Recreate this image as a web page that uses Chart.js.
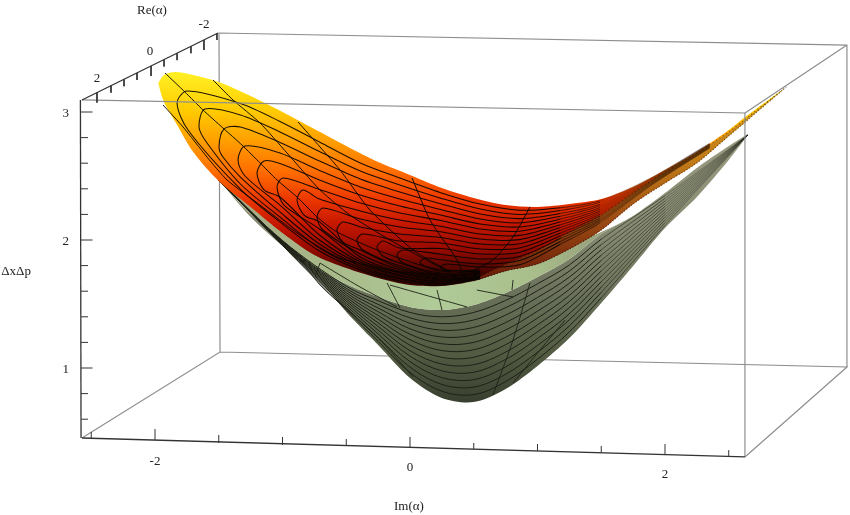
<!DOCTYPE html>
<html>
<head>
<meta charset="utf-8">
<style>
  html, body { margin: 0; background: #fff; }
  canvas { display: block; }
</style>
<script src="https://cdn.jsdelivr.net/npm/chart.js@4"></script>
</head>
<body>
<canvas id="chart" width="850" height="515"></canvas>
<script>
// tick labels
const imTickLabels = [-2, 0, 2]
const levelTickLabels = [1, 2, 3]

// upper surface outline
const upperIm = [-1.975, -1.93, -1.84, -1.7, -1.5, -1.25, -1, -0.75, -0.5, -0.25, 0, 0.25, 0.5, 0.75, 1, 1.25, 1.5, 1.75, 2, 2.25, 2.5, 2.63, 2.95]
const upperBack = [3.227, 3.289, 3.3125, 3.289, 3.234, 3.125, 3, 2.867, 2.734, 2.609, 2.508, 2.406, 2.328, 2.273, 2.258, 2.281, 2.32, 2.414, 2.547, 2.6875, 2.859, 2.961, 3.195]
const upperFront = [3.227, 3.078, 2.922, 2.6875, 2.461, 2.258, 2.055, 1.883, 1.781, 1.703, 1.648, 1.641, 1.68, 1.758, 1.8125, 1.93, 2.078, 2.281, 2.445, 2.602, 2.8125, 2.922, 3.195]
// brown rim along the front of the upper surface, same columns from Im 0.5 on
const rimIm = [0.5, 0.75, 1, 1.25, 1.5, 1.75, 2, 2.25, 2.5, 2.63, 2.95]
const rimTop = [1.69, 1.81, 1.9175, 2.0625, 2.1953, 2.3672, 2.5313, 2.6797, 2.8438, 2.9453, 3.195]
const rimBottom = [1.68, 1.758, 1.8125, 1.93, 2.078, 2.281, 2.445, 2.602, 2.8125, 2.922, 3.195]

// lower surface outline
const lowerIm = [-1.5, -1.25, -1, -0.75, -0.5, -0.25, 0, 0.25, 0.5, 0.75, 1, 1.25, 1.5, 1.75, 2, 2.25, 2.5, 2.65]
const lowerInner = [2.5, 2.3125, 2.117, 1.922, 1.805, 1.727, 1.6875, 1.6875, 1.727, 1.805, 1.883, 1.961, 2.0625, 2.1875, 2.367, 2.5625, 2.734, 2.828]
const lowerRim = [2.469, 2.203, 2, 1.797, 1.656, 1.555, 1.477, 1.453, 1.492, 1.586, 1.711, 1.852, 2.047, 2.1875, 2.367, 2.5625, 2.734, 2.828]
const lowerOuter = [2.469, 2.18, 1.953, 1.734, 1.4375, 1.18, 0.922, 0.766, 0.734, 0.836, 1.016, 1.234, 1.508, 1.797, 2.094, 2.336, 2.625, 2.82]

// lower surface level lines
const lowerLineIm = [-1.5, -1, -0.5, -0.25, 0, 0.25, 0.5, 0.75, 1, 1.25, 1.5, 2, 2.65]
const lowerLines = [
  [2.469, 1.996, 1.639, 1.526, 1.434, 1.4, 1.434, 1.528, 1.658, 1.805, 2.006, 2.346, 2.82],
  [2.469, 1.993, 1.622, 1.497, 1.392, 1.347, 1.375, 1.471, 1.604, 1.757, 1.964, 2.325, 2.82],
  [2.469, 1.989, 1.606, 1.469, 1.349, 1.295, 1.317, 1.413, 1.551, 1.71, 1.923, 2.304, 2.82],
  [2.469, 1.986, 1.589, 1.44, 1.306, 1.242, 1.259, 1.355, 1.497, 1.662, 1.881, 2.283, 2.82],
  [2.469, 1.982, 1.572, 1.411, 1.264, 1.189, 1.2, 1.297, 1.444, 1.614, 1.84, 2.262, 2.82],
  [2.469, 1.978, 1.555, 1.382, 1.221, 1.136, 1.142, 1.24, 1.39, 1.567, 1.798, 2.241, 2.82],
  [2.469, 1.975, 1.538, 1.353, 1.178, 1.083, 1.084, 1.182, 1.337, 1.519, 1.757, 2.22, 2.82],
  [2.469, 1.971, 1.522, 1.325, 1.135, 1.031, 1.026, 1.124, 1.283, 1.472, 1.715, 2.199, 2.82],
  [2.469, 1.967, 1.505, 1.296, 1.093, 0.978, 0.967, 1.067, 1.23, 1.424, 1.674, 2.178, 2.82],
  [2.469, 1.964, 1.488, 1.267, 1.05, 0.925, 0.909, 1.009, 1.176, 1.377, 1.632, 2.157, 2.82],
  [2.469, 1.96, 1.471, 1.238, 1.007, 0.872, 0.851, 0.951, 1.123, 1.329, 1.591, 2.136, 2.82],
  [2.469, 1.957, 1.454, 1.209, 0.965, 0.819, 0.792, 0.894, 1.069, 1.282, 1.549, 2.115, 2.82]
]
// meridians on the lower surface, each as Im then level
const lowerMeridians = [
  [[0.941, 0.808, 0.651], [1.664, 1.219, 0.789]],
  [[1.216, 1.02, 0.808], [1.375, 1.141, 0.883]],
  [[-0.573, -0.212, 0.024], [1.531, 1.195, 0.93]],
  [[-0.863, -0.706, -0.471], [1.859, 1.648, 1.4375]],
  [[-0.706, -0.745], [1.82, 1.711]],
  [[-0.18, -0.078], [1.664, 1.469]],
  [[0.212, 0.251], [1.609, 1.453]],
  [[0.808, 0.8], [1.6875, 1.609]],
  [[-0.706, -0.392, -0.102], [1.82, 1.633, 1.477]],
  [[-0.157, 0.447], [1.648, 1.477]],
  [[0.525, 0.808], [1.609, 1.555]]
]

// upper surface level lines: one turning point per line, then back and front branches
const apexIm = [-1.827, -1.655, -1.498, -1.349, -1.2, -1.043, -0.886, -0.729, -0.573, -0.416, -0.259, -0.102, 0.078, 0.235]
const apexLevel = [3.07, 2.883, 2.727, 2.625, 2.523, 2.414, 2.3125, 2.18, 2.078, 2, 1.945, 1.883, 1.828, 1.789]
const backTurnIm = [-1.749, -1.608, -1.459, -1.294, -1.145, -0.996, -0.839, -0.682, -0.525, -0.369, -0.212, -0.055, 0.125, 0.29]
const backTurnLevel = [3.164, 3.023, 2.867, 2.734, 2.617, 2.484, 2.391, 2.25, 2.141, 2.047, 1.992, 1.922, 1.859, 1.8125]
const frontTurnIm = [-1.741, -1.592, -1.467, -1.294, -1.145, -0.988, -0.831, -0.682, -0.525, -0.369, -0.212, -0.055, 0.125, 0.29]
const frontTurnLevel = [2.859, 2.758, 2.648, 2.5, 2.391, 2.273, 2.195, 2.078, 1.984, 1.922, 1.875, 1.82, 1.789, 1.766]
const branchIm = [-1.33, -1.02, -0.71, -0.39, -0.08, 0.24, 0.55, 0.86, 1.18, 1.49, 1.88, 2.35]
const backBranches = [
  [3.066, 2.926, 2.766, 2.602, 2.484, 2.37, 2.281, 2.233, 2.252, 2.307, 2.48, 2.755],
  [2.977, 2.844, 2.691, 2.539, 2.43, 2.327, 2.242, 2.2, 2.23, 2.294, 2.475, 2.752],
  [2.883, 2.762, 2.617, 2.477, 2.375, 2.283, 2.203, 2.167, 2.208, 2.28, 2.47, 2.75],
  [null, 2.68, 2.543, 2.414, 2.32, 2.239, 2.164, 2.134, 2.186, 2.267, 2.466, 2.747],
  [null, 2.598, 2.469, 2.352, 2.266, 2.195, 2.125, 2.102, 2.164, 2.254, 2.461, 2.744],
  [null, null, 2.395, 2.289, 2.211, 2.152, 2.086, 2.069, 2.142, 2.241, 2.456, 2.741],
  [null, null, 2.32, 2.227, 2.156, 2.108, 2.047, 2.036, 2.12, 2.227, 2.452, 2.738],
  [null, null, null, 2.164, 2.102, 2.064, 2.008, 2.003, 2.098, 2.214, 2.447, 2.736],
  [null, null, null, 2.102, 2.047, 2.02, 1.969, 1.97, 2.077, 2.201, 2.442, 2.733],
  [null, null, null, null, 1.992, 1.977, 1.93, 1.9375, 2.055, 2.188, 2.4375, 2.73],
  [null, null, null, null, 1.9375, 1.933, 1.891, 1.905, 2.033, 2.174, 2.433, 2.727],
  [null, null, null, null, null, 1.889, 1.852, 1.872, 2.011, 2.161, 2.428, 2.725],
  [null, null, null, null, null, 1.845, 1.8125, 1.839, 1.989, 2.148, 2.423, 2.722],
  [null, null, null, null, null, null, 1.789, 1.806, 1.967, 2.134, 2.419, 2.719]
]
const frontBranches = [
  [2.398, 2.141, 1.914, 1.766, 1.68, 1.648, 1.695],
  [2.4375, 2.18, 1.9375, 1.781, 1.695, 1.656, 1.699],
  [2.492, 2.219, 1.969, 1.797, 1.703, 1.664, 1.703],
  [null, 2.273, 2, 1.8125, 1.719, 1.672, 1.707],
  [null, 2.336, 2.039, 1.828, 1.727, 1.68, 1.711],
  [null, null, 2.086, 1.844, 1.742, 1.688, 1.715],
  [null, null, 2.141, 1.867, 1.75, 1.695, 1.719],
  [null, null, null, 1.891, 1.766, 1.703, 1.727],
  [null, null, null, 1.922, 1.781, 1.711, 1.734],
  [null, null, null, null, 1.797, 1.719, 1.742],
  [null, null, null, null, 1.82, 1.727, 1.75],
  [null, null, null, null, null, 1.742, 1.758],
  [null, null, null, null, null, 1.758, 1.766],
  [null, null, null, null, null, null, 1.75]
]
// meridians on the upper surface
const upperMeridians = [
  [[-1.922, -1.765, -1.624, -1.467, -1.318, -1.176, -1.043, -0.886, -0.729, -0.573, -0.259, 0.078, 0.314], [3.305, 3.156, 3.016, 2.875, 2.742, 2.602, 2.469, 2.336, 2.18, 2.0625, 1.922, 1.805, 1.75]],
  [[-1.545, -1.388, -1.176, -0.965, -0.706, -0.471, -0.157, 0.157, 0.314], [3.25, 3.094, 2.914, 2.68, 2.391, 2.195, 2, 1.828, 1.75]],
  [[-0.878, -0.706, -0.549, -0.314, 0.024, 0.314], [2.922, 2.727, 2.547, 2.234, 1.922, 1.75]],
  [[0.016, 0.157, 0.369, 0.408], [2.484, 2.156, 1.844, 1.75]],
  [[0.941, 0.808, 0.651, 0.471], [2.258, 2.023, 1.844, 1.75]],
  [[-1.937, -1.78, -1.592, -1.435, -1.176, -0.863, -0.549, -0.078, 0.314], [3.055, 2.883, 2.648, 2.469, 2.273, 2.039, 1.859, 1.75, 1.734]]
]

// frame of the box
const backBoxIm = [-2.573, -1.49, 3.427, 2.627, null, -1.49, -1.498, 3.427, 3.427, null, 3.427, 2.627]
const backBoxLevel = [0.453, 1.125, 1.008, 0.305, null, 1.125, 3.617, 3.523, 1.008, null, 3.523, 2.992]
const frontBoxIm = [-2.573, 2.627, 2.627]
const frontBoxLevel = [3.094, 2.992, 0.305]

// slanted axes and their tick marks
const imAxisIm = [-2.573, 2.627]
const imAxisLevel = [0.453, 0.305]
const imTicks = [-2.5, -2, -1.5, -1, -0.5, 0, 0.5, 1, 1.5, 2, 2.5]
const imTickBase = [0.445, 0.4375, 0.414, 0.398, 0.391, 0.375, 0.367, 0.352, 0.336, 0.32, 0.3125]
const imTickTop = [0.5, 0.523, 0.477, 0.461, 0.445, 0.461, 0.414, 0.406, 0.391, 0.406, 0.359]
const levelAxisIm = [-2.585, -2.58]
const levelAxisLevel = [3.094, 0.453]
const levelTicks = [0.6, 0.8, 1, 1.2, 1.4, 1.6, 1.8, 2, 2.2, 2.4, 2.6, 2.8, 3]
const levelTickEnd = [-2.525, -2.525, -2.49, -2.525, -2.525, -2.525, -2.525, -2.49, -2.525, -2.525, -2.525, -2.525, -2.49]
const reAxisIm = [-2.573, -1.506]
const reAxisLevel = [3.094, 3.617]
const reTickIm = [-2.455, -2.345, -2.243, -2.141, -2.031, -1.929, -1.827, -1.718, -1.616, -1.514]
const reTickBase = [3.152, 3.205, 3.255, 3.305, 3.359, 3.409, 3.459, 3.513, 3.563, 3.613]
const reTickEnd = [3.073, 3.151, 3.201, 3.25, 3.281, 3.355, 3.405, 3.459, 3.484, 3.5625]

// texts that have no scale of their own
const noteTexts = ['2', '0', '-2', 'Re(α)', 'ΔxΔp', 'Im(α)']
const noteIm = [-2.455, -2.039, -1.616, -2.024, -3.09, -0.008]
const noteLevel = [3.263, 3.474, 3.685, 3.795, 1.756, -0.08]

// colour ramps
const upperRampLevel = [3.289, 3.016, 2.781, 2.547, 2.3125, 2.117, 1.922, 1.727]
const upperRampColor = ['#ffee22', '#ffcc00', '#ffa000', '#ff7000', '#ec3600', '#c41600', '#960a00', '#3c0400']
const rimRampLevel = [3.2, 2.6, 2.2, 1.7]
const rimRampColor = ['#d8a020', '#c07a18', '#a05014', '#6a1c08']
const outerRampLevel = [2.85, 2.078, 1.531, 1.1, 0.75]
const outerRampColor = ['#9c9c82', '#868a72', '#686f58', '#525a42', '#3a4030']
const innerRampIm = [-1.5, -0.7, 0.2, 1, 1.6]
const innerRampColor = ['#a6a682', '#a8b888', '#b0cb98', '#a8bd8a', '#939a78']

// the scales are not laid out yet the first time options are resolved
const scalesReady = c => c.chart.chartArea && c.chart.scales.x && c.chart.scales.y &&
  Number.isFinite(c.chart.scales.y.getPixelForValue(1)) && Number.isFinite(c.chart.scales.x.getPixelForValue(1))

const verticalRamp = (levels, colors) => c => {
  if (!scalesReady(c)) return 'transparent'
  const y = c.chart.scales.y
  const g = c.chart.ctx.createLinearGradient(0, y.getPixelForValue(levels[0]), 0, y.getPixelForValue(levels[levels.length - 1]))
  const span = levels[0] - levels[levels.length - 1]
  levels.forEach((v, i) => g.addColorStop((levels[0] - v) / span, colors[i]))
  return g
}
const horizontalRamp = (ims, colors) => c => {
  if (!scalesReady(c)) return 'transparent'
  const x = c.chart.scales.x
  const g = c.chart.ctx.createLinearGradient(x.getPixelForValue(ims[0]), 0, x.getPixelForValue(ims[ims.length - 1]), 0)
  const span = ims[ims.length - 1] - ims[0]
  ims.forEach((v, i) => g.addColorStop((v - ims[0]) / span, colors[i]))
  return g
}

const pts = (xs, ys) => xs.map((x, i) => ({ x, y: ys[i] }))

const datasets = []
const addLine = (xs, ys, color, width, extra) => {
  datasets.push(Object.assign({
    data: pts(xs, ys),
    borderColor: color,
    borderWidth: width,
    pointRadius: 0,
    showLine: true,
    fill: false,
    tension: 0,
    spanGaps: false
  }, extra || {}))
  return datasets.length - 1
}
// a filled band: the edge it fills to has to be added right after it
const addBand = (xs, top, bottom, ramp) => {
  const at = datasets.length
  addLine(xs, top, 'transparent', 0, { fill: at + 1, backgroundColor: ramp, tension: 0.3 })
  addLine(xs, bottom, 'transparent', 0, { tension: 0.3 })
}

const boxColor = '#8e8e8e'
const axisColor = '#333333'
const meshDark = 'rgba(8,4,0,0.92)'
const meshGrey = '#1d2116'

// lines crowd together towards the right end, so they are thinned out there
const fadeUpper = { borderColor: s => (s.p0.parsed.x > 1.3 ? 'rgba(40,12,0,0.3)' : s.p0.parsed.x > 0.9 ? 'rgba(20,6,0,0.6)' : undefined) }
const fadeLower = { borderColor: s => (s.p0.parsed.x > 1.9 ? 'rgba(30,33,22,0.35)' : s.p0.parsed.x > 1.4 ? 'rgba(30,33,22,0.6)' : undefined) }

// back of the box
addLine(backBoxIm, backBoxLevel, boxColor, 1.2)

// lower surface
addBand(lowerIm, lowerRim, lowerOuter, verticalRamp(outerRampLevel, outerRampColor))
addBand(lowerIm, lowerInner, lowerRim, horizontalRamp(innerRampIm, innerRampColor))
lowerLines.forEach(row => addLine(lowerLineIm, row, meshGrey, 1, { tension: 0.35, segment: fadeLower }))
lowerMeridians.forEach(m => addLine(m[0], m[1], meshGrey, 0.9, { tension: 0.3 }))

// upper surface
addBand(upperIm, upperBack, upperFront, verticalRamp(upperRampLevel, upperRampColor))
addBand(rimIm, rimTop, rimBottom, verticalRamp(rimRampLevel, rimRampColor))
apexIm.forEach((apex, i) => {
  const xs = []
  const ys = []
  frontBranches[i].forEach((v, k) => {
    if (v !== null) { xs.unshift(branchIm[k]); ys.unshift(v) }
  })
  xs.push(frontTurnIm[i], apex, backTurnIm[i])
  ys.push(frontTurnLevel[i], apexLevel[i], backTurnLevel[i])
  backBranches[i].forEach((v, k) => {
    if (v !== null) { xs.push(branchIm[k]); ys.push(v) }
  })
  addLine(xs, ys, meshDark, 1.05, { tension: 0.3, segment: fadeUpper })
})
upperMeridians.forEach(m => addLine(m[0], m[1], meshDark, 1, { tension: 0.2 }))
addLine(rimIm, rimBottom, 'rgba(20,8,0,0.6)', 1.2, { borderDash: [1, 2], tension: 0.3 })
addLine(rimIm, rimTop, 'rgba(20,8,0,0.5)', 1.2, { borderDash: [1, 3], tension: 0.3 })

// front of the box and the axes
addLine(frontBoxIm, frontBoxLevel, boxColor, 1.2)
addLine(imAxisIm, imAxisLevel, axisColor, 1.3)
addLine(levelAxisIm, levelAxisLevel, axisColor, 1.3)
addLine(reAxisIm, reAxisLevel, axisColor, 1.3)
imTicks.forEach((t, i) => addLine([t, t], [imTickBase[i], imTickTop[i]], axisColor, 1))
levelTicks.forEach((t, i) => addLine([-2.58, levelTickEnd[i]], [t, t], axisColor, 1))
reTickIm.forEach((t, i) => addLine([t, t], [reTickBase[i], reTickEnd[i]], axisColor, 1))

// first added is painted first
datasets.forEach((d, i) => { d.order = -i })

const noteFont = '13px "Liberation Serif"'
const notesPlugin = {
  id: 'notes',
  afterDraw(chart) {
    const { ctx, scales } = chart
    ctx.save()
    ctx.font = noteFont
    ctx.fillStyle = '#222222'
    ctx.textAlign = 'center'
    ctx.textBaseline = 'middle'
    noteTexts.forEach((t, i) => {
      ctx.fillText(t, scales.x.getPixelForValue(noteIm[i]), scales.y.getPixelForValue(noteLevel[i]))
    })
    ctx.restore()
  }
}

// axes sit inside the plot, so they must not take any room from it
const noRoom = s => {
  s.width = s.isHorizontal() ? s.width : 0
  s.height = s.isHorizontal() ? 0 : s.height
  s.paddingTop = s.paddingBottom = s.paddingLeft = s.paddingRight = 0
}

new Chart(document.getElementById('chart'), {
  type: 'scatter',
  data: { datasets },
  plugins: [notesPlugin],
  options: {
    responsive: false,
    animation: false,
    devicePixelRatio: 1,
    layout: { padding: 0 },
    plugins: {
      legend: { display: false },
      tooltip: { enabled: false },
      filler: { drawTime: 'beforeDatasetDraw', propagate: false }
    },
    scales: {
      x: {
        type: 'linear',
        min: -3.2157,
        max: 3.451,
        position: { y: 0.295 },
        afterFit: noRoom,
        afterBuildTicks(s) { s.ticks = imTickLabels.map(value => ({ value })) },
        grid: { display: false, drawTicks: false },
        border: { display: false },
        ticks: {
          autoSkip: false,
          maxRotation: 0,
          padding: 0,
          color: '#222222',
          font: { family: 'Liberation Serif', size: 13, lineHeight: '6.5px' },
          // the axis runs downhill, so each label sits a little lower
          callback(v) {
            const i = imTickLabels.indexOf(v)
            return Array(i).fill('').concat(String(v))
          }
        }
      },
      y: {
        type: 'linear',
        min: -0.1484,
        max: 3.875,
        position: { x: -2.675 },
        afterFit: noRoom,
        afterBuildTicks(s) { s.ticks = levelTickLabels.map(value => ({ value })) },
        grid: { display: false, drawTicks: false },
        border: { display: false },
        ticks: {
          padding: 0,
          labelOffset: 1.5,
          color: '#222222',
          font: { family: 'Liberation Serif', size: 13 }
        }
      }
    }
  }
})
</script>
</body>
</html>
